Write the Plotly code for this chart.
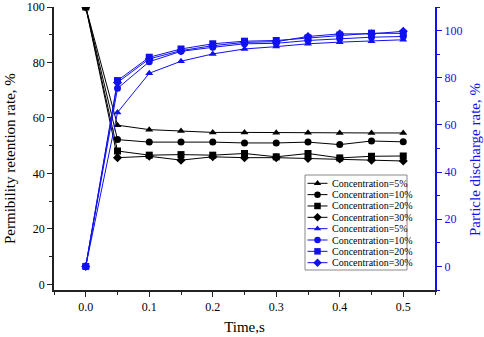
import plotly.graph_objects as go

time_s = [0, 0.05, 0.1, 0.15, 0.2, 0.25, 0.3, 0.35, 0.4, 0.45, 0.5]

# Permeability retention rate (left axis, black)
ret_5 = [100, 57.4, 55.8, 55.3, 54.8, 54.8, 54.7, 54.7, 54.6, 54.6, 54.6]
ret_10 = [100, 52.2, 51.3, 51.3, 51.3, 51.0, 51.0, 51.3, 50.4, 51.7, 51.4]
ret_20 = [100, 48.1, 46.6, 46.8, 46.6, 47.2, 46.0, 47.2, 45.6, 46.2, 46.3]
ret_30 = [100, 45.7, 46.2, 44.8, 46.0, 45.7, 45.7, 45.4, 45.2, 44.8, 44.5]

# Particle discharge rate (right axis, blue)
dis_5 = [0, 65.3, 81.9, 87.0, 90.1, 92.2, 93.2, 94.4, 95.1, 95.5, 96.1]
dis_10 = [0, 75.5, 86.8, 91.2, 92.9, 94.4, 94.6, 95.8, 96.5, 97.2, 97.5]
dis_20 = [0, 78.8, 88.7, 92.2, 94.4, 95.5, 95.8, 96.9, 98.1, 98.9, 98.8]
dis_30 = [0, 78.0, 88.0, 91.5, 93.6, 95.0, 95.3, 97.5, 98.6, 98.6, 99.7]

legend_names = ["Concentration=5%", "Concentration=10%", "Concentration=20%", "Concentration=30%",
                "Concentration=5%", "Concentration=10%", "Concentration=20%", "Concentration=30%"]

left_title = "Permibility retention rate, %"
right_title = "Particle discharge rate, %"
x_title = "Time,s"

symbols = ["triangle-up", "circle", "square", "diamond"]
BLUE = "#1010F0"
FONT = "Times New Roman, Liberation Serif, Times, serif"

fig = go.Figure()

left_series = [ret_5, ret_10, ret_20, ret_30]
right_series = [dis_5, dis_10, dis_20, dis_30]

for vals, sym in zip(right_series, symbols):
    fig.add_trace(go.Scatter(x=time_s, y=vals, yaxis="y2", mode="lines+markers",
                             line=dict(color=BLUE, width=1),
                             marker=dict(symbol=sym, size=7, color=BLUE),
                             showlegend=False))
for vals, sym in zip(left_series, symbols):
    fig.add_trace(go.Scatter(x=time_s, y=vals, mode="lines+markers",
                             line=dict(color="black", width=1),
                             marker=dict(symbol=sym, size=7, color="black"),
                             showlegend=False))

# Manual compact legend (paper coordinates)
W, H, L, B = 381, 283, 54, 290
def px2x(p):
    return (p - L) / W
def py2y(p):
    return (B - p) / H

row0, drow = 183.3, 11.34
colors = ["black"] * 4 + [BLUE] * 4
shapes = [dict(type="rect", xref="paper", yref="paper", layer="below",
               x0=px2x(305), x1=px2x(407), y0=py2y(175), y1=py2y(270),
               line=dict(color="#888888", width=1), fillcolor="white")]
annotations = []
mx, my, ms, mc = [], [], [], []
for i, name in enumerate(legend_names):
    yc = py2y(row0 + i * drow)
    shapes.append(dict(type="line", xref="paper", yref="paper",
                       x0=px2x(307.5), x1=px2x(327.5), y0=yc, y1=yc,
                       line=dict(color=colors[i], width=1)))
    mx.append(px2x(317.5)); my.append(yc)
    ms.append(symbols[i % 4]); mc.append(colors[i])
    annotations.append(dict(x=px2x(329.5), y=yc, xref="paper", yref="paper",
                            text=name, showarrow=False, xanchor="left", yanchor="middle",
                            font=dict(family=FONT, size=10, color="black")))
fig.add_trace(go.Scatter(x=mx, y=my, xaxis="x3", yaxis="y3", mode="markers",
                         marker=dict(symbol=ms, color=mc, size=6.5), showlegend=False,
                         hoverinfo="skip"))

# axis titles as rotated annotations
annotations.append(dict(x=px2x(10), y=py2y(159), xref="paper", yref="paper", text=left_title,
                        textangle=-90, showarrow=False, xanchor="center", yanchor="middle",
                        font=dict(family=FONT, size=15, color="black")))
annotations.append(dict(x=px2x(475), y=py2y(160), xref="paper", yref="paper", text=right_title,
                        textangle=-90, showarrow=False, xanchor="center", yanchor="middle",
                        font=dict(family=FONT, size=15, color=BLUE)))

tickfont = dict(family=FONT, size=12, color="black")
fig.update_layout(
    width=484, height=337, autosize=False, showlegend=False,
    margin=dict(l=54, r=49, t=7, b=47, pad=0, autoexpand=False),
    paper_bgcolor="white", plot_bgcolor="white",
    font=dict(family=FONT, size=12, color="black"),
    xaxis=dict(range=[-0.05, 0.55], dtick=0.1, tick0=0, tickformat=".1f", automargin=False,
               showgrid=False, zeroline=False, showline=True, linecolor="#222", linewidth=1.5,
               ticks="outside", ticklen=5, tickwidth=1.2, tickcolor="#222",
               minor=dict(dtick=0.05, tick0=0, ticks="outside", ticklen=3, tickwidth=1, tickcolor="#222"),
               tickfont=tickfont,
               title=dict(text=x_title, font=dict(family=FONT, size=15), standoff=8)),
    xaxis2=dict(overlaying="x", side="top", matches="x", range=[-0.05, 0.55], dtick=0.1, tick0=0,
                automargin=False,
                showgrid=False, zeroline=False, showline=True, linecolor="#222", linewidth=1.5,
                ticks="inside", ticklen=5, tickwidth=1.2, tickcolor="#222", showticklabels=False,
                minor=dict(dtick=0.05, tick0=0, ticks="inside", ticklen=3, tickwidth=1, tickcolor="#222")),
    xaxis3=dict(overlaying="x", range=[0, 1], visible=False, automargin=False),
    yaxis3=dict(overlaying="y", range=[0, 1], visible=False, automargin=False),
    yaxis=dict(range=[-2, 100], dtick=20, tick0=0, automargin=False,
               showgrid=False, zeroline=False, showline=True, linecolor="#222", linewidth=1.5,
               ticks="outside", ticklen=5, tickwidth=1.2, tickcolor="#222",
               minor=dict(dtick=10, tick0=0, ticks="outside", ticklen=3, tickwidth=1, tickcolor="#222"),
               tickfont=tickfont),
    yaxis2=dict(range=[-10, 110], dtick=20, tick0=0, overlaying="y", side="right", automargin=False,
                showgrid=False, zeroline=False, showline=True, linecolor=BLUE, linewidth=2,
                ticks="outside", ticklen=5, tickwidth=1.2, tickcolor=BLUE,
                minor=dict(dtick=10, tick0=0, ticks="outside", ticklen=3, tickwidth=1, tickcolor=BLUE),
                tickfont=dict(family=FONT, size=12, color=BLUE)),
    shapes=shapes,
    annotations=annotations,
)

fig.write_html("out.html", config={"displayModeBar": False},
               post_script="document.body.style.margin='0';document.body.style.overflow='hidden';")
